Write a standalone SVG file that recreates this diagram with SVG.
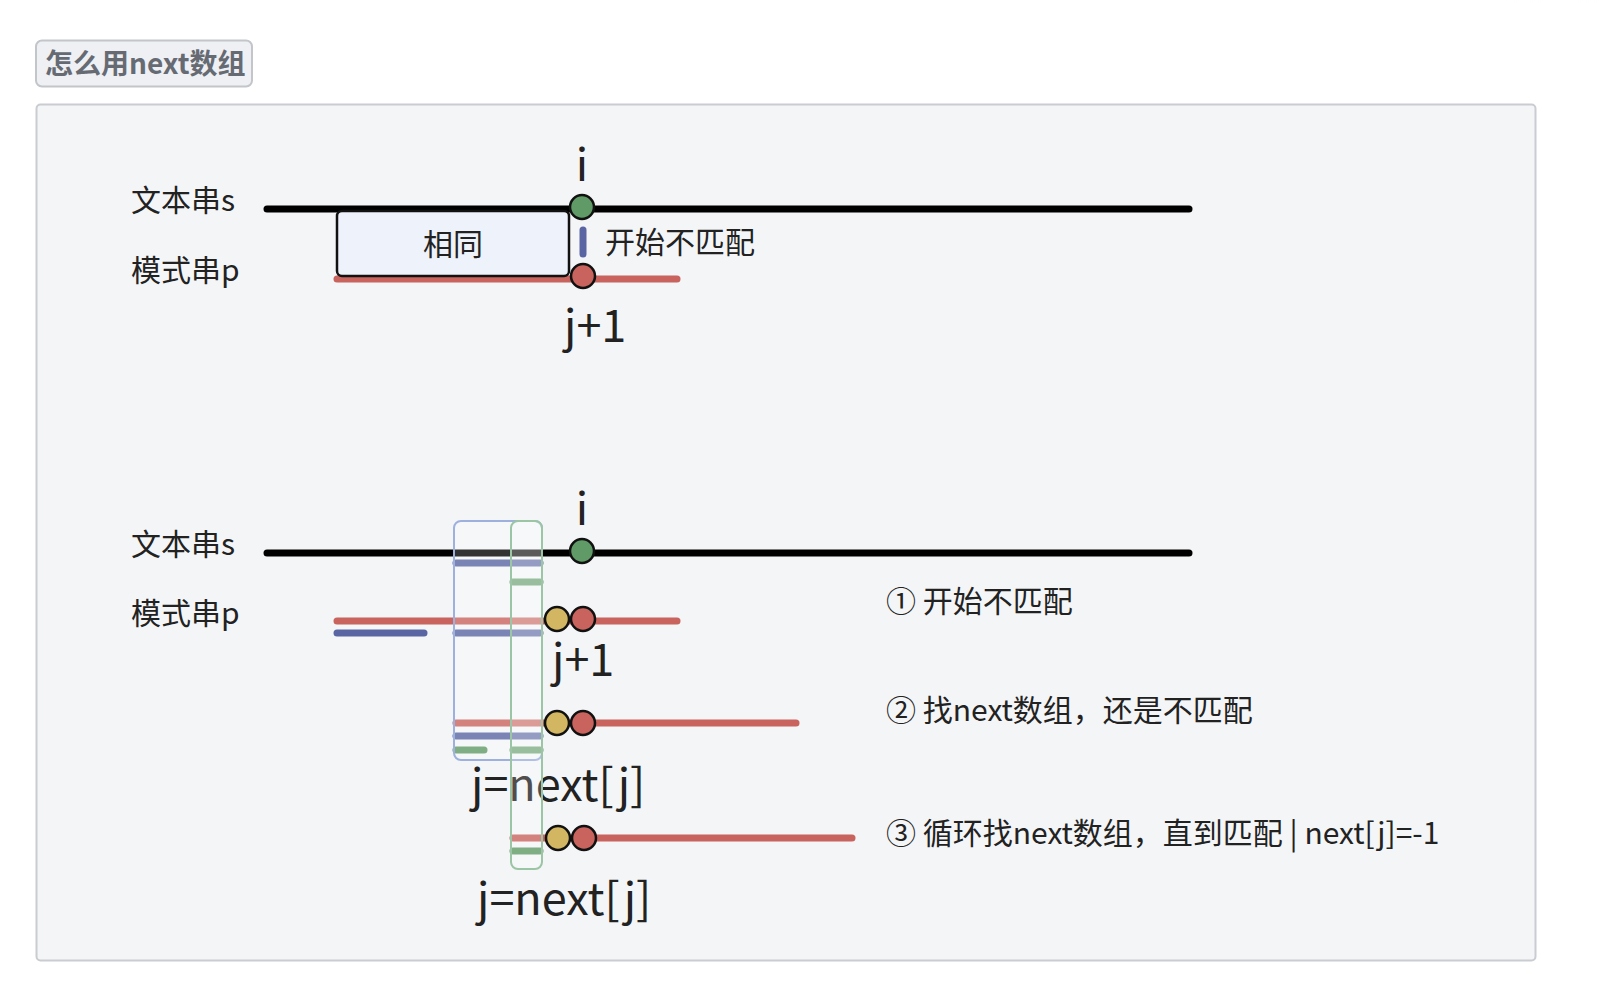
<svg xmlns="http://www.w3.org/2000/svg" width="1600" height="998" viewBox="0 0 1600 998">
<defs>
<style>
.t{font-family:"Noto Sans CJK SC","Noto Sans",sans-serif;fill:#222;font-size:30px}
.big{font-size:45px}
.blk{stroke:#000;stroke-width:7;stroke-linecap:round;fill:none}
.red{stroke:#c8635e;stroke-width:7;stroke-linecap:round;fill:none}
.blue{stroke:#5966a3;stroke-width:7;stroke-linecap:round;fill:none}
.grn{stroke:#5f9a67;stroke-width:7;stroke-linecap:round;fill:none}
.cg{fill:#5f9a67;stroke:#111;stroke-width:2.5}
.cr{fill:#c8635e;stroke:#111;stroke-width:2.5}
.cy{fill:#d3b661;stroke:#111;stroke-width:2.5}
</style>
<radialGradient id="sh" cx="0.5" cy="0" r="0.6">
<stop offset="0" stop-color="#eceef0" stop-opacity="0.8"/>
<stop offset="1" stop-color="#ffffff" stop-opacity="0"/>
</radialGradient>
</defs>
<rect width="1600" height="998" fill="#ffffff"/>
<ellipse cx="1560" cy="0" rx="180" ry="50" fill="url(#sh)"/>
<g id="title">
<rect x="36" y="40.5" width="216" height="46" rx="6" fill="#eef0f3" stroke="#c2c5ca" stroke-width="2"/>
<text x="45" y="74" style="font-family:'Noto Sans CJK SC','Noto Sans',sans-serif;font-size:28px;font-weight:bold;fill:#666b73">怎么用next数组</text>
</g>
<g id="frame">
<rect x="36.5" y="104.5" width="1499" height="856" rx="4" fill="#f4f5f7" stroke="#c9ccd1" stroke-width="2"/>
</g>
<g id="part1">
<text class="t" x="131" y="211">文本串s</text>
<text class="t" x="131" y="281">模式串p</text>
<line class="blk" x1="267" y1="209" x2="1189" y2="209"/>
<line class="red" x1="337" y1="279" x2="677" y2="279"/>
<g id="same">
<rect x="337" y="211" width="232" height="65" rx="5" fill="#eef2fa" stroke="#111" stroke-width="2.5"/>
<text class="t" x="453" y="255" text-anchor="middle">相同</text>
</g>
<line class="blue" x1="583" y1="230" x2="583" y2="254"/>
<text class="t" x="605" y="253">开始不匹配</text>
<circle class="cg" cx="582" cy="207" r="12"/>
<circle class="cr" cx="583" cy="276" r="12"/>
<text class="t big" x="582" y="181" text-anchor="middle">i</text>
<text class="t big" x="564" y="342">j+1</text>
</g>
<g id="part2">
<text class="t" x="131" y="555">文本串s</text>
<text class="t" x="131" y="624">模式串p</text>
<text class="t big" x="582" y="525" text-anchor="middle">i</text>
<g id="connectors">
<line class="blk" x1="267" y1="553" x2="1189" y2="553"/>
<line class="blue" x1="456" y1="563" x2="540" y2="563"/>
<line class="grn" x1="513" y1="582" x2="540" y2="582"/>
<line class="red" x1="337" y1="621" x2="677" y2="621"/>
<line class="blue" x1="337" y1="633" x2="424" y2="633"/>
<line class="blue" x1="456" y1="633" x2="540" y2="633"/>
<line class="red" x1="456" y1="723" x2="796" y2="723"/>
<line class="blue" x1="456" y1="736" x2="540" y2="736"/>
<line class="grn" x1="456" y1="750" x2="484" y2="750"/>
<line class="grn" x1="513" y1="750" x2="540" y2="750"/>
<line class="red" x1="513" y1="838" x2="852" y2="838"/>
<line class="grn" x1="513" y1="851" x2="540" y2="851"/>
</g>
<text class="t big" x="471" y="801">j=next[j]</text>
<text class="t big" x="477" y="915">j=next[j]</text>
<rect id="blueBox" x="454" y="521" width="88" height="239" rx="7" fill="#ffffff" fill-opacity="0.2" stroke="#9eb0de" stroke-width="2"/>
<rect id="greenBox" x="511" y="521" width="31" height="348" rx="7" fill="#ffffff" fill-opacity="0.2" stroke="#9bc5a4" stroke-width="2"/>
<circle class="cg" cx="582" cy="551" r="12"/>
<circle class="cy" cx="557" cy="619" r="12"/>
<circle class="cr" cx="583" cy="619" r="12"/>
<circle class="cy" cx="557" cy="723" r="12"/>
<circle class="cr" cx="583" cy="723" r="12"/>
<circle class="cy" cx="558" cy="838" r="12"/>
<circle class="cr" cx="584" cy="838" r="12"/>
<text class="t big" x="552" y="676">j+1</text>
<text class="t" x="886" y="612">① 开始不匹配</text>
<text class="t" x="886" y="721">② 找next数组，还是不匹配</text>
<text class="t" x="886" y="844">③ 循环找next数组，直到匹配 | next[j]=-1</text>
</g>
</svg>
